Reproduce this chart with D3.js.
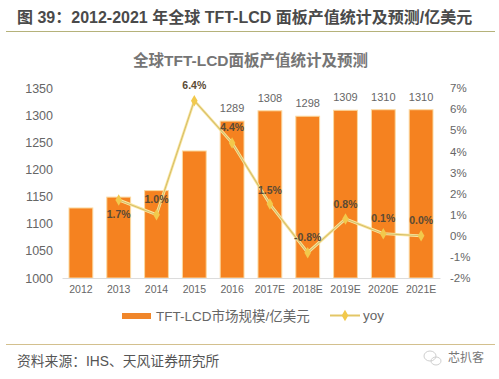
<!DOCTYPE html>
<html>
<head>
<meta charset="utf-8">
<script src="https://cdn.jsdelivr.net/npm/d3@7"></script>
<style>
  html, body { margin: 0; padding: 0; background: #fff; }
  svg { display: block; }
  text { font-family: "Liberation Sans", "Noto Sans CJK SC", sans-serif; }
</style>
</head>
<body>
<div id="chart"></div>
<script>
// values
var years = ["2012", "2013", "2014", "2015", "2016", "2017E", "2018E", "2019E", "2020E", "2021E"];
var market = [1129, 1149, 1161, 1234, 1289, 1308, 1298, 1309, 1310, 1310];
var yoy = [null, 1.7, 1.0, 6.4, 4.4, 1.5, -0.8, 0.8, 0.1, 0.0];
var leftTicks = [1000, 1050, 1100, 1150, 1200, 1250, 1300, 1350];
var rightTicks = [-2, -1, 0, 1, 2, 3, 4, 5, 6, 7];
var barLabels = ["", "", "", "", "1289", "1308", "1298", "1309", "1310", "1310"];
var yoyLabels = ["", "1.7%", "1.0%", "6.4%", "4.4%", "1.5%", "-0.8%", "0.8%", "0.1%", "0.0%"];
// label offset from the point, in px
var yoyLabelDy = [0, 14, -16, -16, -16, -14, -16, -15, -16, -16];

var width = 499, height = 379;
var margin = {top: 88, right: 59, bottom: 101, left: 62};

var svg = d3.select("#chart")
  .append("svg")
    .attr("width", width)
    .attr("height", height);

// header and footer
svg.append("text")
  .attr("x", 17).attr("y", 23)
  .attr("font-size", 16).attr("font-weight", "bold").attr("fill", "#4a4a4a")
  .text("图 39：2012-2021 年全球 TFT-LCD 面板产值统计及预测/亿美元");
svg.append("line")
  .attr("x1", 6).attr("x2", 495).attr("y1", 31.5).attr("y2", 31.5)
  .attr("stroke", "#b5b27a").attr("stroke-width", 1);
svg.append("line")
  .attr("x1", 6).attr("x2", 495).attr("y1", 344.5).attr("y2", 344.5)
  .attr("stroke", "#d3c08e").attr("stroke-width", 1);
svg.append("text")
  .attr("x", 17).attr("y", 366)
  .attr("font-size", 13.8).attr("fill", "#555")
  .text("资料来源：IHS、天风证券研究所");
// watermark
svg.append("ellipse")
  .attr("cx", 430).attr("cy", 356).attr("rx", 6).attr("ry", 5)
  .attr("fill", "none").attr("stroke", "#cfcfcf");
svg.append("ellipse")
  .attr("cx", 436).attr("cy", 361).attr("rx", 5).attr("ry", 4)
  .attr("fill", "none").attr("stroke", "#cfcfcf");
svg.append("text")
  .attr("x", 466).attr("y", 362).attr("text-anchor", "middle")
  .attr("font-size", 12).attr("fill", "#777")
  .text("芯扒客");

// chart title
svg.append("text")
  .attr("x", 250.5).attr("y", 66).attr("text-anchor", "middle")
  .attr("font-size", 15.5).attr("font-weight", "bold").attr("fill", "#757575")
  .text("全球TFT-LCD面板产值统计及预测");

var x = d3.scaleBand()
  .domain(years)
  .range([margin.left, width - margin.right])
  .paddingInner(0.37)
  .paddingOuter(0.185);
var y = d3.scaleLinear().domain([1000, 1350]).range([height - margin.bottom, margin.top]);
var y2 = d3.scaleLinear().domain([-2, 7]).range([height - margin.bottom, margin.top]);

// bars
svg.selectAll(".bar")
  .data(market)
  .enter()
  .append("rect")
    .attr("class", "bar")
    .attr("x", function (d, i) { return x(years[i]); })
    .attr("y", function (d) { return y(d); })
    .attr("width", x.bandwidth())
    .attr("height", function (d) { return y(1000) - y(d); })
    .attr("fill", "#f58220")
    .attr("stroke", "#fbd9a0")
    .attr("stroke-width", 1);

// axes
var xAxis = d3.axisBottom(x).tickSize(0).tickPadding(8);
var gx = svg.append("g")
  .attr("transform", "translate(0," + y(1000) + ")")
  .call(xAxis);
gx.select(".domain").attr("stroke", "#dcdcdc");

var gy = svg.append("g")
  .attr("transform", "translate(" + margin.left + ",0)")
  .call(d3.axisLeft(y).tickValues(leftTicks).tickSize(0).tickPadding(9)
    .tickFormat(function (d) { return "" + d; }));
gy.select(".domain").remove();

var gy2 = svg.append("g")
  .attr("transform", "translate(" + (width - margin.right) + ",0)")
  .call(d3.axisRight(y2).tickValues(rightTicks).tickSize(0).tickPadding(10)
    .tickFormat(function (d) { return d + "%"; }));
gy2.select(".domain").remove();

svg.selectAll("g.tick text")
  .attr("fill", "#666")
  .style("font-family", '"Liberation Sans", sans-serif');
gx.selectAll("text").attr("font-size", 10.5);
gy.selectAll("text").attr("font-size", 12.5);
gy2.selectAll("text").attr("font-size", 11.5);

// yoy line, pale halo under a darker core
var points = yoy.map(function (d, i) { return {v: d, year: years[i], i: i}; })
  .filter(function (d) { return d.v !== null; });
var line = d3.line()
  .x(function (d) { return x(d.year) + x.bandwidth() / 2; })
  .y(function (d) { return y2(d.v); });
svg.append("path")
  .attr("d", line(points))
  .attr("fill", "none")
  .attr("stroke", "#fbe6a0")
  .attr("stroke-width", 2.8);
svg.append("path")
  .attr("d", line(points))
  .attr("fill", "none")
  .attr("stroke", "#d6c06a")
  .attr("stroke-width", 1.1);

var diamond = d3.symbol().type(d3.symbolDiamond).size(38);
svg.selectAll(".dot")
  .data(points)
  .enter()
  .append("path")
    .attr("class", "dot")
    .attr("d", diamond)
    .attr("transform", function (d) {
      return "translate(" + (x(d.year) + x.bandwidth() / 2) + "," + y2(d.v) + ")";
    })
    .attr("fill", "#f2c94c");

// labels
svg.selectAll(".barLabel")
  .data(market)
  .enter()
  .append("text")
    .attr("class", "barLabel")
    .attr("x", function (d, i) { return x(years[i]) + x.bandwidth() / 2; })
    .attr("y", function (d) { return y(d) - 9; })
    .attr("text-anchor", "middle")
    .attr("font-size", 11)
    .attr("fill", "#666")
    .text(function (d, i) { return barLabels[i]; });

svg.selectAll(".yoyLabel")
  .data(points)
  .enter()
  .append("text")
    .attr("class", "yoyLabel")
    .attr("x", function (d) { return x(d.year) + x.bandwidth() / 2; })
    .attr("y", function (d) { return y2(d.v) + yoyLabelDy[d.i] + 4; })
    .attr("text-anchor", "middle")
    .attr("font-size", 10.5)
    .attr("font-weight", "bold")
    .attr("fill", "#5a4a35")
    .text(function (d) { return yoyLabels[d.i]; });

// legend
var legend = svg.append("g");
legend.append("rect")
  .attr("x", 122).attr("y", 313).attr("width", 29).attr("height", 6)
  .attr("fill", "#f0862a");
legend.append("text")
  .attr("x", 156).attr("y", 321)
  .attr("font-size", 13.5).attr("fill", "#666")
  .text("TFT-LCD市场规模/亿美元");
legend.append("line")
  .attr("x1", 330).attr("x2", 360).attr("y1", 315.5).attr("y2", 315.5)
  .attr("stroke", "#e3c666").attr("stroke-width", 2);
legend.append("path")
  .attr("d", diamond)
  .attr("transform", "translate(345,315.5)")
  .attr("fill", "#f2c94c");
legend.append("text")
  .attr("x", 363).attr("y", 320)
  .attr("font-size", 13.5).attr("fill", "#666")
  .text("yoy");
</script>
</body>
</html>
